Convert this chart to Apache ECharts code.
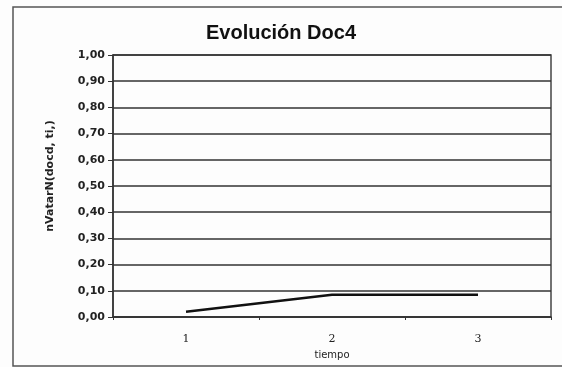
<!DOCTYPE html>
<html>
<head>
<meta charset="utf-8">
<script src="https://cdn.jsdelivr.net/npm/echarts@6/dist/echarts.min.js"></script>
<style>
  html, body { margin: 0; padding: 0; background: #fff; }
  #chart { width: 562px; height: 367px; }
</style>
</head>
<body>
<div id="chart"></div>
<script>
// datos
const tiempo = ['1', '2', '3']
const valores = [0.02, 0.085, 0.085]
const yTicks = { min: 0, max: 1, interval: 0.1 }

const chart = echarts.init(document.getElementById('chart'))
const option = {
  backgroundColor: '#fdfdfd',
  animation: false,
  title: {
    text: 'Evolución Doc4',
    left: 'center',
    top: 18,
    textStyle: { fontFamily: 'Liberation Sans', fontWeight: 'bold', fontSize: 20, color: '#111' }
  },
  graphic: [
    {
      type: 'rect',
      shape: { x: 13, y: 7, width: 560, height: 359 },
      style: { fill: 'none', stroke: '#555', lineWidth: 1.5 },
      silent: true
    }
  ],
  grid: { left: 113, right: 11, top: 55, bottom: 50, show: true, borderColor: '#444', borderWidth: 1.5 },
  xAxis: {
    type: 'category',
    data: tiempo,
    boundaryGap: true,
    name: 'tiempo',
    nameLocation: 'middle',
    nameGap: 33,
    nameTextStyle: { fontFamily: 'DejaVu Sans', fontSize: 10, color: '#222' },
    axisLine: { lineStyle: { color: '#333', width: 1.5 } },
    axisTick: { show: true, length: 3, lineStyle: { color: '#333' } },
    axisLabel: { fontFamily: 'DejaVu Serif', fontSize: 11, color: '#222', margin: 17 }
  },
  yAxis: {
    type: 'value',
    min: yTicks.min,
    max: yTicks.max,
    interval: yTicks.interval,
    name: 'nVatarN(docd, ti,)',
    nameLocation: 'middle',
    nameGap: 57,
    nameTextStyle: { fontFamily: 'DejaVu Sans', fontWeight: 'bold', fontSize: 11, color: '#222', padding: [0, 0, 0, 20] },
    axisLine: { show: true, lineStyle: { color: '#333', width: 1.5 } },
    axisTick: { show: true, length: 5, lineStyle: { color: '#333' } },
    splitLine: { lineStyle: { color: '#333', width: 1.5 } },
    axisLabel: {
      fontFamily: 'DejaVu Sans',
      fontWeight: 'bold',
      fontSize: 11,
      color: '#222',
      margin: 8,
      formatter: (v) => v.toFixed(2).replace('.', ',')
    }
  },
  series: [
    {
      type: 'line',
      data: valores,
      symbol: 'none',
      lineStyle: { color: '#111', width: 2.5 }
    }
  ]
}
chart.setOption(option)
</script>
</body>
</html>
